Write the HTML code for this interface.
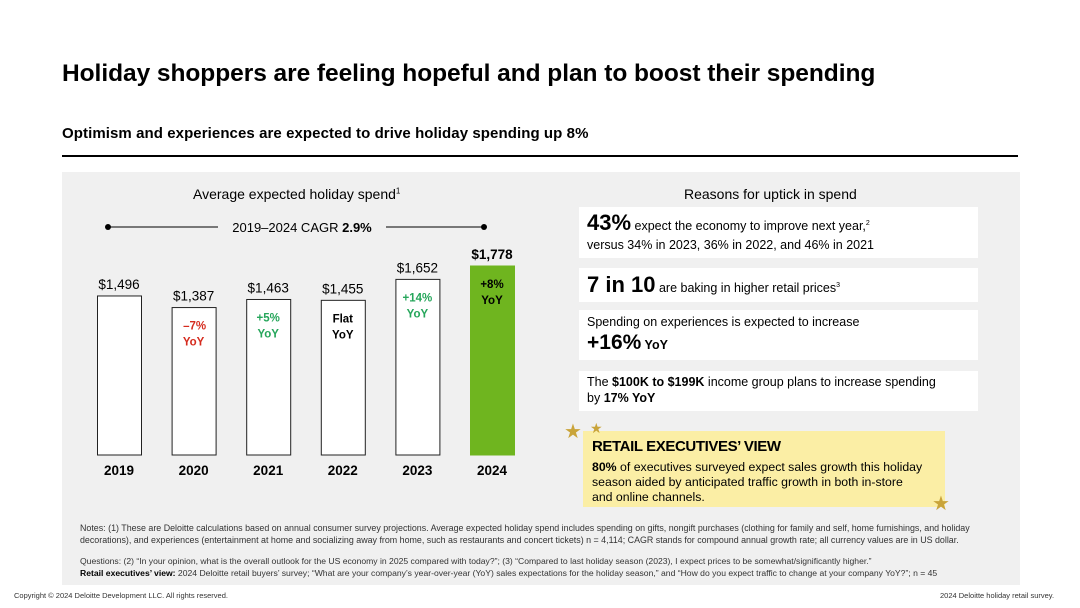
<!DOCTYPE html>
<html><head><meta charset="utf-8"><style>
body{margin:0;width:1080px;height:608px;background:#fff;font-family:"Liberation Sans",sans-serif;position:relative;overflow:hidden;color:#000}
.a{position:absolute;white-space:nowrap}
.box{position:absolute;background:#fff;left:579px;width:399px}
</style></head><body>
<div class="a" style="left:62px;top:60px;font-size:24.5px;font-weight:bold;letter-spacing:-0.05px">Holiday shoppers are feeling hopeful and plan to boost their spending</div>
<div class="a" style="left:62px;top:125px;font-size:15px;font-weight:bold;letter-spacing:0.08px">Optimism and experiences are expected to drive holiday spending up 8%</div>
<div class="a" style="left:62px;top:155px;width:956px;height:2px;background:#000"></div>
<div class="a" style="left:62px;top:172px;width:958px;height:413px;background:#f0f0f0"></div>
<div class="a" style="left:193px;top:186px;font-size:14px">Average expected holiday spend<sup style="font-size:8px">1</sup></div>
<svg class="a" style="left:0;top:0" width="1080" height="608" id="chart"></svg>
<div class="a" style="left:684px;top:186px;font-size:14px">Reasons for uptick in spend</div>
<div class="box" style="top:207px;height:51px"><div class="a" style="left:8px;top:3px;font-size:12.5px"><b style="font-size:22px">43%</b> expect the economy to improve next year,<sup style="font-size:7px">2</sup></div><div class="a" style="left:8px;top:31px;font-size:12.5px">versus 34% in 2023, 36% in 2022, and 46% in 2021</div></div>
<div class="box" style="top:268px;height:34px"><div class="a" style="left:8px;top:4px;font-size:12.5px"><b style="font-size:22px">7 in 10</b> are baking in higher retail prices<sup style="font-size:7px">3</sup></div></div>
<div class="box" style="top:310px;height:50px"><div class="a" style="left:8px;top:5px;font-size:12.5px">Spending on experiences is expected to increase</div><div class="a" style="left:8px;top:21px;font-size:12.5px;font-weight:bold"><span style="font-size:21px">+16%</span> YoY</div></div>
<div class="box" style="top:371px;height:40px"><div class="a" style="left:8px;top:4px;font-size:12.5px">The <b>$100K to $199K</b> income group plans to increase spending</div><div class="a" style="left:8px;top:20px;font-size:12.5px">by <b>17% YoY</b></div></div>
<div class="a" style="left:583px;top:431px;width:362px;height:76px;background:#fbeea5"></div>
<div class="a" style="left:592px;top:438px;font-size:15px;font-weight:bold;letter-spacing:-0.4px">RETAIL EXECUTIVES’ VIEW</div>
<div class="a" style="left:592px;top:460px;font-size:12.3px;line-height:15px"><b>80%</b> of executives surveyed expect sales growth this holiday<br>season aided by anticipated traffic growth in both in-store<br>and online channels.</div>
<div class="a" style="left:564px;top:419px;font-size:20px;color:#c9a43a">★</div>
<div class="a" style="left:590px;top:420px;font-size:14px;color:#c9a43a">★</div>
<div class="a" style="left:932px;top:491px;font-size:20px;color:#c9a43a">★</div>
<div class="a" style="left:80px;top:523px;font-size:8.9px;line-height:11.5px;color:#333">Notes: (1) These are Deloitte calculations based on annual consumer survey projections. Average expected holiday spend includes spending on gifts, nongift purchases (clothing for family and self, home furnishings, and holiday<br>decorations), and experiences (entertainment at home and socializing away from home, such as restaurants and concert tickets) n = 4,114; CAGR stands for compound annual growth rate; all currency values are in US dollar.</div>
<div class="a" style="left:80px;top:556px;font-size:8.6px;line-height:11.5px;color:#333">Questions: (2) “In your opinion, what is the overall outlook for the US economy in 2025 compared with today?”; (3) “Compared to last holiday season (2023), I expect prices to be somewhat/significantly higher.”<br><b style="color:#000">Retail executives’ view:</b> 2024 Deloitte retail buyers’ survey; “What are your company’s year-over-year (YoY) sales expectations for the holiday season,” and “How do you expect traffic to change at your company YoY?”; n = 45</div>
<div class="a" style="left:14px;top:591px;font-size:7.5px;color:#333">Copyright © 2024 Deloitte Development LLC. All rights reserved.</div>
<div class="a" style="left:940px;top:591px;font-size:7.5px;color:#333">2024 Deloitte holiday retail survey.</div>
<script>
const years=["2019","2020","2021","2022","2023","2024"];
const values=[1496,1387,1463,1455,1652,1778];
const valueLabels=["$1,496","$1,387","$1,463","$1,455","$1,652","$1,778"];
const yoyTop=["","–7%","+5%","Flat","+14%","+8%"];
const yoyColors=["#000","#d52b1e","#26a65b","#000","#26a65b","#000"];
const svg=document.getElementById('chart');const NS='http://www.w3.org/2000/svg';
const base=455,scale=189/1778;
const x=i=>97+i*74.6,w=44;
const y=v=>base-v*scale;
function mk(t,a,txt){const e=document.createElementNS(NS,t);for(const k in a)e.setAttribute(k,a[k]);if(txt!=null)e.textContent=txt;svg.appendChild(e);return e;}
let l=mk('line',{x1:108,y1:227,x2:218,y2:227,stroke:'#000','stroke-width':1});

l=mk('line',{x1:386,y1:227,x2:484,y2:227,stroke:'#000','stroke-width':1});

let d=mk('circle',{cx:108,cy:227,r:3,fill:'#000'});
d=mk('circle',{cx:484,cy:227,r:3,fill:'#000'});
const c=mk('text',{x:302,y:232,'text-anchor':'middle','font-size':13});c.innerHTML='2019–2024 CAGR <tspan font-weight="bold">2.9%</tspan>';

values.forEach((v,i)=>{
 const last=i===values.length-1;
 const r=mk('rect',{x:x(i)+0.5,y:y(v),width:w,height:base-y(v),fill:last?'#6fb51f':'#fff',stroke:last?'#6fb51f':'#222','stroke-width':1});
 
 const t=mk('text',{x:x(i)+w/2,y:y(v)-7,'text-anchor':'middle','font-size':13.5,'font-weight':last?'bold':'normal'},valueLabels[i]);
 
 const yl=mk('text',{x:x(i)+w/2,y:base+20,'text-anchor':'middle','font-size':13.5,'font-weight':'bold'},years[i]);
 
 if(yoyTop[i]){
  const a=mk('text',{x:x(i)+w/2+(i==1?1:0),y:y(v)+22,'text-anchor':'middle','font-size':11.5,'font-weight':'bold',fill:yoyColors[i]},yoyTop[i]);
  
  const b=mk('text',{x:x(i)+w/2,y:y(v)+38,'text-anchor':'middle','font-size':11.5,'font-weight':'bold',fill:yoyColors[i]},'YoY');
  
 }
});
</script>
</body></html>
